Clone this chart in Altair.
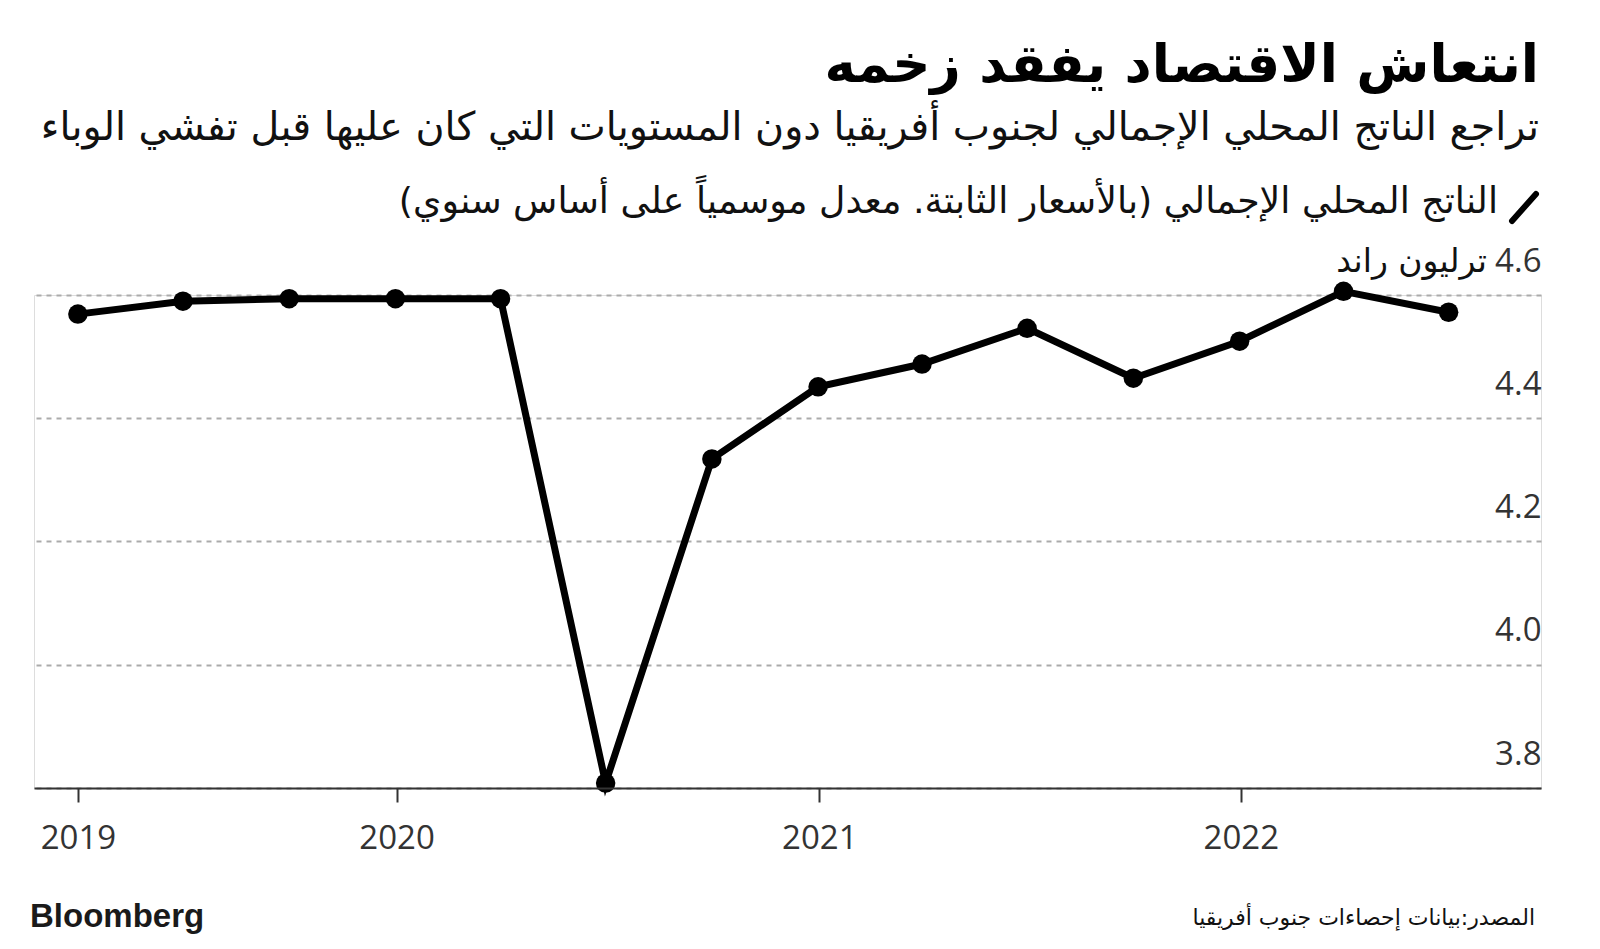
import altair as alt
import pandas as pd

# ---- data ----
quarters = ["2019-03-31", "2019-06-30", "2019-09-30", "2019-12-31",
            "2020-03-31", "2020-06-30", "2020-09-30", "2020-12-31",
            "2021-03-31", "2021-06-30", "2021-09-30", "2021-12-31",
            "2022-03-31", "2022-06-30"]
gdp = [4.569, 4.590, 4.594, 4.594, 4.594, 3.808, 4.334, 4.451,
       4.488, 4.546, 4.465, 4.525, 4.606, 4.572]
y_ticks = [3.8, 4.0, 4.2, 4.4, 4.6]

title = "انتعاش الاقتصاد يفقد زخمه"
subtitle = "تراجع الناتج المحلي الإجمالي لجنوب أفريقيا دون المستويات التي كان عليها قبل تفشي الوباء"
legend_label = "الناتج المحلي الإجمالي (بالأسعار الثابتة. معدل موسمياً على أساس سنوي)\u200f"
unit_label = "ترليون راند"
source_label = "المصدر:بيانات إحصاءات جنوب أفريقيا"
brand = "Bloomberg"

df = pd.DataFrame({"date": quarters, "gdp": gdp})

W, H = 1507, 493
AR_FONT = "DejaVu Sans"
NUM_FONT = "Open Sans"

x_enc = alt.X(
    "date:T",
    scale=alt.Scale(type="utc",
                    domain=[alt.DateTime(year=2019, month=2, date=21, utc=True),
                            alt.DateTime(year=2022, month=9, date=18, utc=True)]),
    axis=alt.Axis(
        values=[alt.DateTime(year=2019, month=3, date=31, utc=True),
                alt.DateTime(year=2020, month=1, date=1, utc=True),
                alt.DateTime(year=2021, month=1, date=1, utc=True),
                alt.DateTime(year=2022, month=1, date=1, utc=True)],
        labelExpr="utcFormat(datum.value, '%Y')",
        title=None, grid=False,
        domainColor="#333333", domainWidth=2,
        tickColor="#333333", tickWidth=2, tickSize=14,
        labelFont=NUM_FONT, labelFontSize=33, labelColor="#333333",
        labelPadding=20, zindex=1,
    ),
)

y_enc = alt.Y(
    "gdp:Q",
    scale=alt.Scale(domain=[3.8, 4.6], nice=False, zero=False),
    axis=alt.Axis(
        orient="right", values=y_ticks, format=".1f", title=None,
        grid=True, gridColor="#ababab", gridWidth=2, gridDash=[5, 5],
        domain=False, ticks=False, tickSize=0,
        labelAlign="right", labelBaseline="alphabetic", labelPadding=0,
        labelOffset=-24, labelFont=NUM_FONT, labelFontSize=33,
        labelColor="#333333",
    ),
)

base = alt.Chart(df)
line = base.mark_line(color="black", strokeWidth=7, clip=False).encode(x=x_enc, y=y_enc)
pts = base.mark_circle(color="black", size=380, opacity=1, clip=False).encode(
    x="date:T", y="gdp:Q")


def txt(s, x, y, size, align="right", bold=False, font=AR_FONT, color="#000000"):
    return alt.Chart(pd.DataFrame({"t": [s]})).mark_text(
        align=align, baseline="alphabetic", fontSize=size, font=font,
        fontWeight="bold" if bold else "normal", color=color,
    ).encode(text="t:N", x=alt.value(x), y=alt.value(y))


t_title = txt(title, 1505, -213, 53, bold=True)
t_sub = txt(subtitle, 1505, -155, 39.6, color="#111111")
t_leg = txt(legend_label, 1464, -82, 36.3, color="#111111")
t_unit = txt(unit_label, 1453, -23, 33, color="#111111")
t_src = txt(source_label, 1501, 630, 22, color="#111111")
t_brand = txt(brand, -4, 632, 33, align="left", bold=True,
              font="Liberation Sans", color="#1a1a1a")

icon = alt.Chart(pd.DataFrame({"a": [0]})).mark_rule(
    color="black", strokeWidth=6, strokeCap="round").encode(
    x=alt.value(1478), x2=alt.value(1502), y=alt.value(-74), y2=alt.value(-101))

chart = alt.layer(line, pts, t_title, t_sub, t_leg, t_unit, t_src, t_brand, icon).properties(
    width=W, height=H,
    autosize=alt.AutoSizeParams(type="none"),
    padding={"left": 34, "top": 295, "right": 59, "bottom": 161},
).configure_view(stroke=None).configure(background="white")

chart.save("out.html", embed_options={"renderer": "svg", "actions": False})
